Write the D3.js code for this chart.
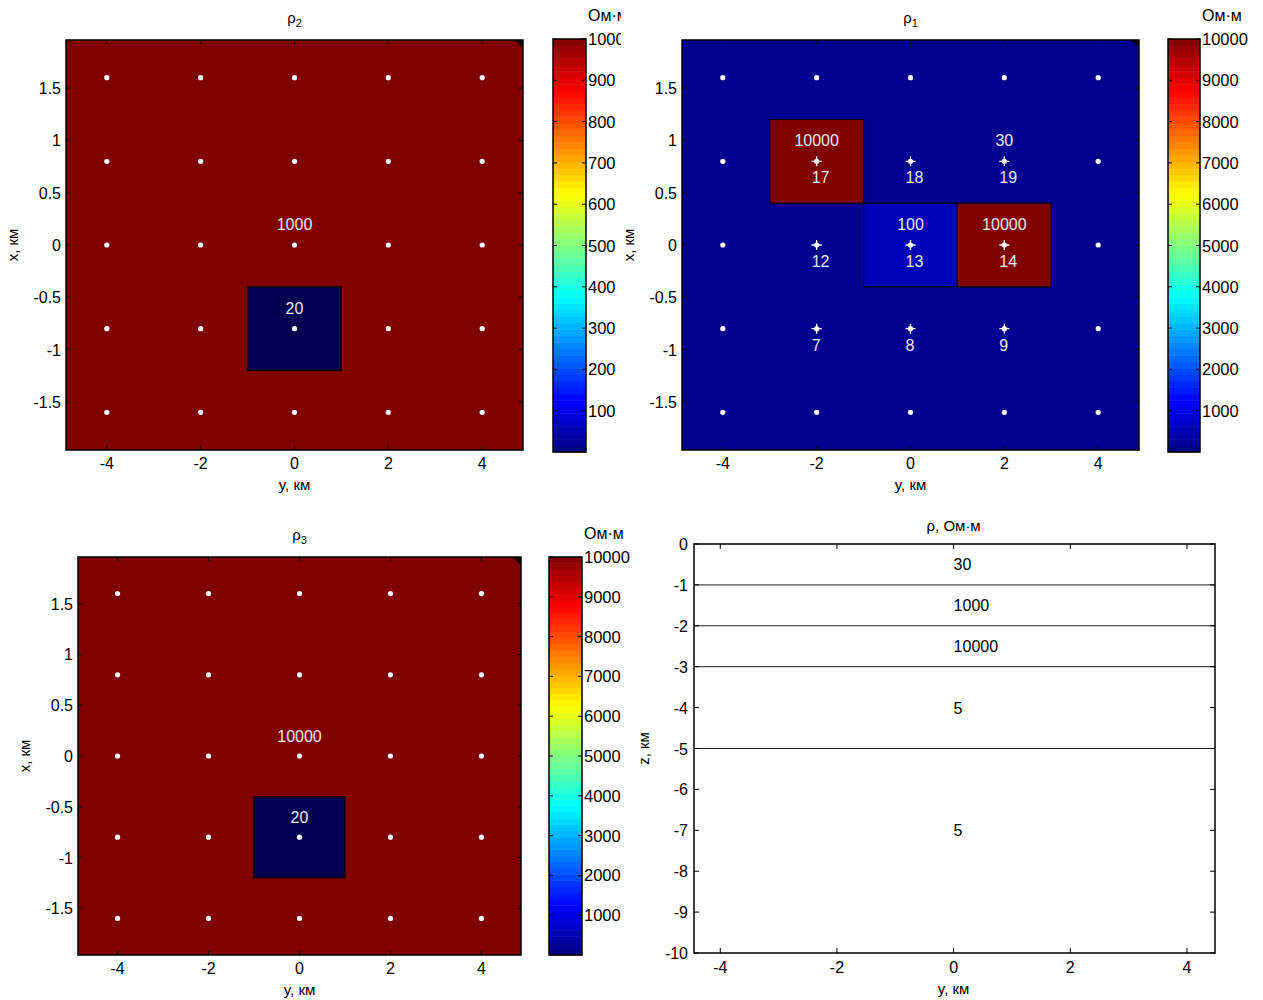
<!DOCTYPE html>
<html>
<head>
<meta charset="utf-8">
<script src="https://cdn.jsdelivr.net/npm/d3@7"></script>
<style>
  body { margin: 0; background: #fff; }
  svg { font-family: "Liberation Sans", Arial, sans-serif; }
</style>
</head>
<body>
<svg id="fig" width="1263" height="1000"></svg>
<script>
// station grid (y, x in km)
const stationY = [-4, -2, 0, 2, 4];
const stationX = [-1.6, -0.8, 0, 0.8, 1.6];

// rho2 map
const rho2Background = 1000;
const rho2Blocks = [{y0: -1, y1: 1, x0: -1.2, x1: -0.4, value: 20}];
const rho2Labels = [{y: 0, x: 0.2, text: '1000'}, {y: 0, x: -0.6, text: '20'}];

// rho1 map
const rho1Background = 30;
const rho1Blocks = [
  {y0: -3, y1: -1, x0: 0.4, x1: 1.2, value: 10000},
  {y0: -1, y1: 1, x0: -0.4, x1: 0.4, value: 100},
  {y0: 1, y1: 3, x0: -0.4, x1: 0.4, value: 10000}
];
const rho1Labels = [
  {y: -2, x: 1.0, text: '10000'}, {y: 2, x: 1.0, text: '30'},
  {y: 0, x: 0.2, text: '100'}, {y: 2, x: 0.2, text: '10000'}
];
const rho1Stations = [
  {y: -2, x: 0.8, n: 17}, {y: 0, x: 0.8, n: 18}, {y: 2, x: 0.8, n: 19},
  {y: -2, x: 0, n: 12}, {y: 0, x: 0, n: 13}, {y: 2, x: 0, n: 14},
  {y: -2, x: -0.8, n: 7}, {y: 0, x: -0.8, n: 8}, {y: 2, x: -0.8, n: 9}
];

// rho3 map
const rho3Background = 10000;
const rho3Blocks = [{y0: -1, y1: 1, x0: -1.2, x1: -0.4, value: 20}];
const rho3Labels = [{y: 0, x: 0.2, text: '10000'}, {y: 0, x: -0.6, text: '20'}];

// ticks
const mapYTicks = [-4, -2, 0, 2, 4];
const mapXTicks = [-1.5, -1, -0.5, 0, 0.5, 1, 1.5];
const cbar1kTicks = [100, 200, 300, 400, 500, 600, 700, 800, 900, 1000];
const cbar10kTicks = [1000, 2000, 3000, 4000, 5000, 6000, 7000, 8000, 9000, 10000];

// layered section
const layerBounds = [-1, -2, -3, -5];
const layerLabels = [
  {z: -0.5, text: '30'}, {z: -1.5, text: '1000'}, {z: -2.5, text: '10000'},
  {z: -4, text: '5'}, {z: -7, text: '5'}
];
const sectionYTicks = [-4, -2, 0, 2, 4];
const sectionZTicks = [0, -1, -2, -3, -4, -5, -6, -7, -8, -9, -10];

const cellColor = d3.scaleOrdinal()
  .domain([20, 30, 100, 1000, 10000])
  .range(['#000050', '#000090', '#0000b8', '#800000', '#800000']);

function jet(t) {
  const c = v => Math.max(0, Math.min(1, v));
  const r = c(1.5 - Math.abs(4 * t - 3));
  const g = c(1.5 - Math.abs(4 * t - 2));
  const b = c(1.5 - Math.abs(4 * t - 1));
  return d3.rgb(r * 255, g * 255, b * 255).toString();
}

const svg = d3.select('#fig');
const fmt = d => String(d);

function insideTicks(g, x, y, w, h, xs, ys, xVals, yVals, len) {
  const tg = g.append('g').attr('stroke', '#000').attr('stroke-width', 1);
  xVals.forEach(v => {
    const px = xs(v);
    tg.append('line').attr('x1', px).attr('x2', px).attr('y1', y + h).attr('y2', y + h - len);
    tg.append('line').attr('x1', px).attr('x2', px).attr('y1', y).attr('y2', y + len);
  });
  yVals.forEach(v => {
    const py = ys(v);
    tg.append('line').attr('x1', x).attr('x2', x + len).attr('y1', py).attr('y2', py);
    tg.append('line').attr('x1', x + w).attr('x2', x + w - len).attr('y1', py).attr('y2', py);
  });
}

function drawMap(opt) {
  const {box, cbar, background, blocks, labels, stations, title, sub, cbarMax, cbarTicks, clipRight} = opt;
  const g = svg.append('g');
  const x = d3.scaleLinear().domain([-4.87, 4.87]).range([box.x, box.x + box.w]);
  const y = d3.scaleLinear().domain([-1.96, 1.96]).range([box.y + box.h, box.y]);

  // background and blocks
  g.append('rect')
    .attr('x', box.x).attr('y', box.y).attr('width', box.w).attr('height', box.h)
    .attr('fill', cellColor(background));

  g.selectAll('.block')
    .data(blocks)
    .enter().append('rect')
      .attr('x', d => x(d.y0))
      .attr('y', d => y(d.x1))
      .attr('width', d => x(d.y1) - x(d.y0))
      .attr('height', d => y(d.x0) - y(d.x1))
      .attr('fill', d => cellColor(d.value))
      .attr('stroke', '#000')
      .attr('stroke-width', 1.2);

  // corner artifact
  g.append('path')
    .attr('d', `M${box.x + box.w - 8},${box.y} L${box.x + box.w},${box.y} L${box.x + box.w},${box.y + 8} Z`)
    .attr('fill', '#000');

  // stations
  const pts = [];
  stationX.forEach(sx => stationY.forEach(sy => pts.push({y: sy, x: sx})));
  g.selectAll('.st')
    .data(pts)
    .enter().append('circle')
      .attr('cx', d => x(d.y))
      .attr('cy', d => y(d.x))
      .attr('r', 2.6)
      .attr('fill', '#fff');

  if (stations) {
    const sg = g.selectAll('.sp')
      .data(stations)
      .enter().append('g');
    sg.append('path')
      .attr('d', d => {
        const cx = x(d.y), cy = y(d.x);
        return `M${cx - 5},${cy} H${cx + 5} M${cx},${cy - 5} V${cy + 5}`;
      })
      .attr('stroke', '#fff').attr('stroke-width', 1.3);
    sg.append('text')
      .attr('x', d => x(d.y) - 5)
      .attr('y', d => y(d.x) + 22)
      .attr('fill', '#e8e8f0')
      .style('font-size', '16px')
      .text(d => d.n);
  }

  g.selectAll('.lbl')
    .data(labels)
    .enter().append('text')
      .attr('x', d => x(d.y))
      .attr('y', d => y(d.x) + 6)
      .attr('text-anchor', 'middle')
      .attr('fill', '#e8e8f0')
      .style('font-size', '16px')
      .text(d => d.text);

  insideTicks(g, box.x, box.y, box.w, box.h, x, y, mapYTicks, mapXTicks, 4);

  g.append('rect')
    .attr('x', box.x).attr('y', box.y).attr('width', box.w).attr('height', box.h)
    .attr('fill', 'none').attr('stroke', '#000').attr('stroke-width', 1.5);

  // tick labels
  g.selectAll('.xt')
    .data(mapYTicks)
    .enter().append('text')
      .attr('x', d => x(d))
      .attr('y', box.y + box.h + 19)
      .attr('text-anchor', 'middle')
      .style('font-size', '16px')
      .text(fmt);
  g.selectAll('.yt')
    .data(mapXTicks)
    .enter().append('text')
      .attr('x', box.x - 5)
      .attr('y', d => y(d) + 6)
      .attr('text-anchor', 'end')
      .style('font-size', '16px')
      .text(fmt);

  g.append('text')
    .attr('x', x(0))
    .attr('y', box.y + box.h + 40)
    .attr('text-anchor', 'middle')
    .style('font-size', '15px')
    .text('y, км');
  g.append('text')
    .attr('transform', `translate(${box.x - 48},${y(0)}) rotate(-90)`)
    .attr('text-anchor', 'middle')
    .style('font-size', '15px')
    .text('x, км');

  const t = g.append('text')
    .attr('x', x(0))
    .attr('y', box.y - 17)
    .attr('text-anchor', 'middle')
    .style('font-size', '15px');
  t.append('tspan').text(title);
  t.append('tspan').attr('dy', 4).style('font-size', '11px').text(sub);

  // colorbar
  const cg = svg.append('g');
  if (clipRight) {
    svg.append('clipPath').attr('id', 'clipcb')
      .append('rect').attr('x', 0).attr('y', 0).attr('width', clipRight).attr('height', 1000);
    cg.attr('clip-path', 'url(#clipcb)');
  }
  const cy = d3.scaleLinear().domain([0, cbarMax]).range([cbar.y + cbar.h, cbar.y]);
  const levels = d3.range(64);
  cg.selectAll('.band')
    .data(levels)
    .enter().append('rect')
      .attr('x', cbar.x)
      .attr('y', d => cy((d + 1) * cbarMax / 64))
      .attr('width', cbar.w)
      .attr('height', d => cy(d * cbarMax / 64) - cy((d + 1) * cbarMax / 64) + 0.5)
      .attr('fill', d => jet((d + 0.5) / 64));
  const ctg = cg.append('g').attr('stroke', '#000');
  cbarTicks.forEach(v => {
    ctg.append('line').attr('x1', cbar.x).attr('x2', cbar.x + 4).attr('y1', cy(v)).attr('y2', cy(v));
    ctg.append('line').attr('x1', cbar.x + cbar.w).attr('x2', cbar.x + cbar.w - 4).attr('y1', cy(v)).attr('y2', cy(v));
  });
  cg.append('rect')
    .attr('x', cbar.x).attr('y', cbar.y).attr('width', cbar.w).attr('height', cbar.h)
    .attr('fill', 'none').attr('stroke', '#000').attr('stroke-width', 1.5);
  cg.selectAll('.ct')
    .data(cbarTicks)
    .enter().append('text')
      .attr('x', cbar.x + cbar.w + 2)
      .attr('y', d => cy(d) + 6)
      .style('font-size', '16.5px')
      .text(d => d);
  cg.append('text')
    .attr('x', cbar.x + cbar.w + 2)
    .attr('y', cbar.y - 18)
    .style('font-size', '16px')
    .text('Ом·м');
}

drawMap({
  box: {x: 66, y: 40, w: 457, h: 410},
  cbar: {x: 553, y: 39, w: 33, h: 413},
  background: rho2Background, blocks: rho2Blocks, labels: rho2Labels,
  title: 'ρ', sub: '2', cbarMax: 1000, cbarTicks: cbar1kTicks, clipRight: 621
});
drawMap({
  box: {x: 682, y: 40, w: 457, h: 410},
  cbar: {x: 1168, y: 39, w: 32, h: 413},
  background: rho1Background, blocks: rho1Blocks, labels: rho1Labels, stations: rho1Stations,
  title: 'ρ', sub: '1', cbarMax: 10000, cbarTicks: cbar10kTicks
});
drawMap({
  box: {x: 78, y: 557, w: 443, h: 398},
  cbar: {x: 549, y: 557, w: 33, h: 398},
  background: rho3Background, blocks: rho3Blocks, labels: rho3Labels,
  title: 'ρ', sub: '3', cbarMax: 10000, cbarTicks: cbar10kTicks
});

// layered section
(function drawSection() {
  const box = {x: 694, y: 544, w: 521, h: 409};
  const g = svg.append('g');
  const x = d3.scaleLinear().domain([-4.45, 4.48]).range([box.x, box.x + box.w]);
  const z = d3.scaleLinear().domain([-10, 0]).range([box.y + box.h, box.y]);

  g.selectAll('.layer')
    .data(layerBounds)
    .enter().append('line')
      .attr('x1', box.x).attr('x2', box.x + box.w)
      .attr('y1', d => z(d)).attr('y2', d => z(d))
      .attr('stroke', '#222').attr('stroke-width', 1);

  g.selectAll('.ll')
    .data(layerLabels)
    .enter().append('text')
      .attr('x', x(0))
      .attr('y', d => z(d.z) + 6)
      .style('font-size', '16px')
      .text(d => d.text);

  insideTicks(g, box.x, box.y, box.w, box.h, x, z, sectionYTicks, sectionZTicks, 5);

  g.append('rect')
    .attr('x', box.x).attr('y', box.y).attr('width', box.w).attr('height', box.h)
    .attr('fill', 'none').attr('stroke', '#000').attr('stroke-width', 1.5);

  g.selectAll('.xt')
    .data(sectionYTicks)
    .enter().append('text')
      .attr('x', d => x(d))
      .attr('y', box.y + box.h + 20)
      .attr('text-anchor', 'middle')
      .style('font-size', '16px')
      .text(fmt);
  g.selectAll('.zt')
    .data(sectionZTicks)
    .enter().append('text')
      .attr('x', box.x - 6)
      .attr('y', d => z(d) + 6)
      .attr('text-anchor', 'end')
      .style('font-size', '16px')
      .text(fmt);

  g.append('text')
    .attr('x', x(0))
    .attr('y', box.y + box.h + 41)
    .attr('text-anchor', 'middle')
    .style('font-size', '15px')
    .text('y, км');
  g.append('text')
    .attr('transform', `translate(${box.x - 45},${z(-5)}) rotate(-90)`)
    .attr('text-anchor', 'middle')
    .style('font-size', '15px')
    .text('z, км');
  g.append('text')
    .attr('x', x(0))
    .attr('y', box.y - 13)
    .attr('text-anchor', 'middle')
    .style('font-size', '15px')
    .text('ρ, Ом·м');
})();
</script>
</body>
</html>
